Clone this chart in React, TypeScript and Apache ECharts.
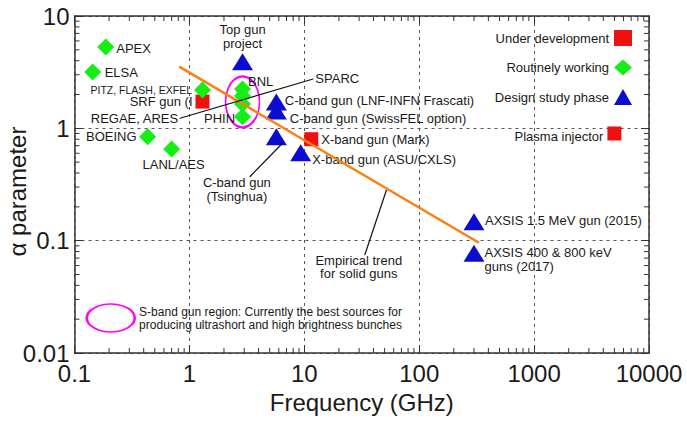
import React, { useEffect, useRef } from 'react';
import * as echarts from 'echarts';

const FONT = '"Liberation Sans", Arial, Helvetica, sans-serif';
const TEXT = '#1a1a1a';
const RED = '#ee1111';
const GREEN = '#14ee14';
const BLUE = '#0c0cd0';
const ORANGE = '#ff7f0e';
const MAGENTA = '#ff00ff';

// Axis ranges (GHz, alpha)
const X_MIN = 0.1;
const X_MAX = 10000;
const Y_MIN = 0.01;
const Y_MAX = 10;

// Under development (red squares)
const underDevNames = ['SRF gun (I', 'X-band gun (Mark)', 'Plasma injector'];
const underDevFreq = [1.3, 11.5, 5000];
const underDevAlpha = [1.73, 0.8, 0.9];

// Routinely working (green diamonds)
const workingNames = ['APEX', 'ELSA', 'PITZ, FLASH, EXFEL', 'BOEING', 'LANL/AES', 'BNL', 'S-band 2', 'S-band 3', 'PHIN'];
const workingFreq = [0.187, 0.144, 1.3, 0.433, 0.7, 2.9, 2.9, 2.9, 2.9];
const workingAlpha = [5.3, 3.17, 2.19, 0.84, 0.655, 2.24, 1.94, 1.65, 1.27];

// Design study phase (blue triangles)
const designNames = [
  'Top gun\nproject',
  'C-band gun (LNF-INFN Frascati)',
  'C-band gun (SwissFEL option)',
  'C-band gun (Tsinghua)',
  'X-band gun (ASU/CXLS)',
  'AXSIS 1.5 MeV gun (2015)',
  'AXSIS 400 & 800 keV\nguns (2017)',
];
const designFreq = [2.9, 5.712, 5.712, 5.712, 9.3, 300, 300];
const designAlpha = [3.92, 1.72, 1.43, 0.84, 0.607, 0.1475, 0.0772];

// Empirical trend for solid guns
const trendFreq = [0.815, 331];
const trendAlpha = [3.54, 0.0959];

// Leader lines for annotations
const sparcLineFreq = [0.827, 11.93];
const sparcLineAlpha = [1.23, 2.75];
const sparcLineLabels = ['REGAE, ARES', 'SPARC'];
const tsinghuaLineFreq = [6.46, 3.36];
const tsinghuaLineAlpha = [0.736, 0.371];
const tsinghuaLineLabel = 'C-band gun\n(Tsinghua)';
const trendNoteFreq = [51.9, 33.6];
const trendNoteAlpha = [0.2825, 0.0745];
const trendNoteLabel = 'Empirical trend\nfor solid guns';

// S-band region ellipse and its key
const sBandFreq = [2.9];
const sBandAlpha = [1.72];
const sBandKeyFreq = [0.207];
const sBandKeyAlpha = [0.0205];
const sBandKeyText = 'S-band gun region: Currently the best sources for\nproducing ultrashort and high brightness bunches';

const legendNames = ['Under development', 'Routinely working', 'Design study phase'];

// minor tick positions (axis decoration)
const decadesX = [0.1, 1, 10, 100, 1000];
const decadesY = [0.01, 0.1, 1];
const mults = [2, 3, 4, 5, 6, 7, 8, 9];

const LABELS: Record<string, any> = {
  'APEX': { position: 'right', distance: 2, offset: [0, 1.5] },
  'ELSA': { position: 'right', distance: 3.5, offset: [0, 0.5] },
  'PITZ, FLASH, EXFEL': { position: 'left', distance: 2, fontSize: 10.5 },
  'BOEING': { position: 'left', distance: 2.5 },
  'LANL/AES': { position: 'bottom', distance: 1, offset: [2, 0] },
  'BNL': { position: 'right', distance: -3, offset: [0, -7] },
  'PHIN': { position: 'left', distance: -1, offset: [0, 2] },
  'SRF gun (I': { position: 'left', distance: 3 },
  'X-band gun (Mark)': { position: 'right', distance: 3, offset: [0, 0.7] },
  'Plasma injector': { position: 'left', distance: 4, offset: [0, 2.7] },
  'Top gun\nproject': { position: 'top', distance: 3, lineHeight: 14 },
  'C-band gun (LNF-INFN Frascati)': { position: 'right', distance: -2, offset: [0, -1] },
  'C-band gun (SwissFEL option)': { position: 'right', distance: 3, offset: [0, 8] },
  'X-band gun (ASU/CXLS)': { position: 'right', distance: 1, offset: [0, 6.6] },
  'AXSIS 1.5 MeV gun (2015)': { position: 'right', distance: 0.5, offset: [0, -1.5] },
  'AXSIS 400 & 800 keV\nguns (2017)': { position: 'right', distance: 0, offset: [0, 6.5], lineHeight: 14 },
};

const baseLabel = { fontSize: 13, color: TEXT, fontFamily: FONT };

function points(names: string[], fx: number[], ay: number[]) {
  return names.map((n, i) => {
    const l = LABELS[n];
    return {
      name: n,
      value: [fx[i], ay[i]],
      label: l ? { show: true, formatter: n, ...baseLabel, ...l } : { show: false },
    };
  });
}

function fmt(v: number) {
  if (v >= 1) return String(Math.round(v));
  return String(parseFloat(v.toPrecision(3)));
}

export default function App() {
  const ref = useRef<HTMLDivElement>(null);

  useEffect(() => {
    document.body.style.margin = '0';
    const chart = echarts.init(ref.current!, null, { renderer: 'svg' });

    const minorData: number[][] = [];
    decadesX.forEach((d) => mults.forEach((m) => minorData.push([d * m, 1, 0])));
    decadesY.forEach((d) => mults.forEach((m) => minorData.push([1, d * m, 1])));

    const axisLine = { show: true, lineStyle: { color: '#333', width: 1.5 } };
    const tick = { show: true, inside: true, length: 8, lineStyle: { color: '#333', width: 1 } };
    const split = { show: true, lineStyle: { color: '#555', type: [3, 4], width: 1 } };
    const label24 = { fontSize: 24, color: TEXT, fontFamily: FONT, formatter: fmt };

    const leader = (fx: number[], ay: number[], labels: any[]) => ({
      type: 'line',
      silent: true,
      z: 4,
      symbol: 'circle',
      symbolSize: 0.5,
      showSymbol: true,
      showAllSymbol: true,
      lineStyle: { color: '#111', width: 1.2 },
      itemStyle: { color: '#111' },
      data: fx.map((f, i) => ({
        value: [f, ay[i]],
        label: labels[i] ? { show: true, ...baseLabel, ...labels[i] } : { show: false },
      })),
    });

    const option: any = {
      animation: false,
      textStyle: { fontFamily: FONT },
      grid: { left: 74.5, right: 38, top: 16, bottom: 71, containLabel: false, outerBoundsMode: 'none' },
      legend: {
        data: legendNames,
        orient: 'vertical',
        right: 50,
        top: 25,
        align: 'right',
        itemWidth: 18,
        itemHeight: 16,
        itemGap: 13.5,
        selectedMode: false,
        textStyle: { fontSize: 13, color: TEXT, fontFamily: FONT },
      },
      xAxis: [
        {
          type: 'log', logBase: 10, min: X_MIN, max: X_MAX, position: 'bottom',
          name: 'Frequency (GHz)', nameLocation: 'middle', nameGap: 37, nameMoveOverlap: false,
          nameTextStyle: { fontSize: 24, color: TEXT, fontFamily: FONT },
          axisLine, axisTick: tick, splitLine: split, minorTick: { show: false },
          axisLabel: { ...label24, margin: 8 },
        },
        {
          type: 'log', logBase: 10, min: X_MIN, max: X_MAX, position: 'top',
          axisLine, axisTick: tick, splitLine: { show: false }, axisLabel: { show: false },
        },
      ],
      yAxis: [
        {
          type: 'log', logBase: 10, min: Y_MIN, max: Y_MAX, position: 'left',
          name: 'α parameter', nameLocation: 'middle', nameGap: 45, nameMoveOverlap: false,
          nameTextStyle: { fontSize: 24, color: TEXT, fontFamily: FONT, padding: [0, 14, 0, 0] },
          axisLine, axisTick: tick, splitLine: split,
          axisLabel: { ...label24, margin: 5 },
        },
        {
          type: 'log', logBase: 10, min: Y_MIN, max: Y_MAX, position: 'right',
          axisLine, axisTick: tick, splitLine: { show: false }, axisLabel: { show: false },
        },
      ],
      series: [
        {
          type: 'custom',
          name: 'minor ticks',
          silent: true,
          clip: false,
          data: minorData,
          renderItem: (params: any, api: any) => {
            const kind = api.value(2);
            const st = { stroke: '#333', lineWidth: 1 };
            const L = 5;
            if (kind === 0) {
              const v = api.value(0);
              const b = api.coord([v, Y_MIN]);
              const t = api.coord([v, Y_MAX]);
              return {
                type: 'group',
                children: [
                  { type: 'line', shape: { x1: b[0], y1: b[1], x2: b[0], y2: b[1] - L }, style: st },
                  { type: 'line', shape: { x1: t[0], y1: t[1], x2: t[0], y2: t[1] + L }, style: st },
                ],
              };
            }
            const v = api.value(1);
            const l = api.coord([X_MIN, v]);
            const r = api.coord([X_MAX, v]);
            return {
              type: 'group',
              children: [
                { type: 'line', shape: { x1: l[0], y1: l[1], x2: l[0] + L, y2: l[1] }, style: st },
                { type: 'line', shape: { x1: r[0], y1: r[1], x2: r[0] - L, y2: r[1] }, style: st },
              ],
            };
          },
        },
        {
          type: 'scatter',
          name: 'Under development',
          symbol: 'rect',
          symbolSize: 14,
          itemStyle: { color: RED, opacity: 1 },
          data: points(underDevNames, underDevFreq, underDevAlpha),
        },
        {
          type: 'scatter',
          name: 'Routinely working',
          symbol: 'diamond',
          symbolSize: 17,
          itemStyle: { color: GREEN, opacity: 1 },
          data: points(workingNames, workingFreq, workingAlpha),
        },
        {
          type: 'scatter',
          name: 'Design study phase',
          symbol: 'triangle',
          symbolSize: [21, 17],
          itemStyle: { color: BLUE, opacity: 1 },
          data: points(designNames, designFreq, designAlpha),
        },
        {
          type: 'scatter',
          name: 'S-band region',
          silent: true,
          symbol: 'circle',
          symbolSize: [34, 51],
          itemStyle: { color: 'rgba(0,0,0,0)', borderColor: MAGENTA, borderWidth: 2, opacity: 1 },
          data: sBandFreq.map((f, i) => [f, sBandAlpha[i]]),
        },
        {
          type: 'scatter',
          name: 'S-band key',
          silent: true,
          symbol: 'circle',
          symbolSize: [48, 28],
          itemStyle: { color: 'rgba(0,0,0,0)', borderColor: MAGENTA, borderWidth: 2, opacity: 1 },
          label: {
            show: true, formatter: sBandKeyText, position: 'right', distance: 3,
            fontSize: 12, lineHeight: 13, color: TEXT, fontFamily: FONT, offset: [0, 0.5],
          },
          data: sBandKeyFreq.map((f, i) => [f, sBandKeyAlpha[i]]),
        },
        {
          type: 'line',
          name: 'Empirical trend',
          silent: true,
          z: 4,
          showSymbol: false,
          lineStyle: { color: ORANGE, width: 2.5 },
          data: trendFreq.map((f, i) => [f, trendAlpha[i]]),
        },
        leader(sparcLineFreq, sparcLineAlpha, [
          { formatter: sparcLineLabels[0], position: 'left', distance: 1.5 },
          { formatter: sparcLineLabels[1], position: 'right', distance: 2 },
        ]),
        leader(tsinghuaLineFreq, tsinghuaLineAlpha, [
          null,
          { formatter: tsinghuaLineLabel, position: 'bottom', distance: -1, offset: [-13, 0], lineHeight: 14 },
        ]),
        leader(trendNoteFreq, trendNoteAlpha, [
          null,
          { formatter: trendNoteLabel, position: 'bottom', distance: -2, offset: [-6, 0], lineHeight: 13.5 },
        ]),
      ],
    };

    chart.setOption(option);
    return () => chart.dispose();
  }, []);

  return <div ref={ref} style={{ width: 687, height: 424 }} />;
}
